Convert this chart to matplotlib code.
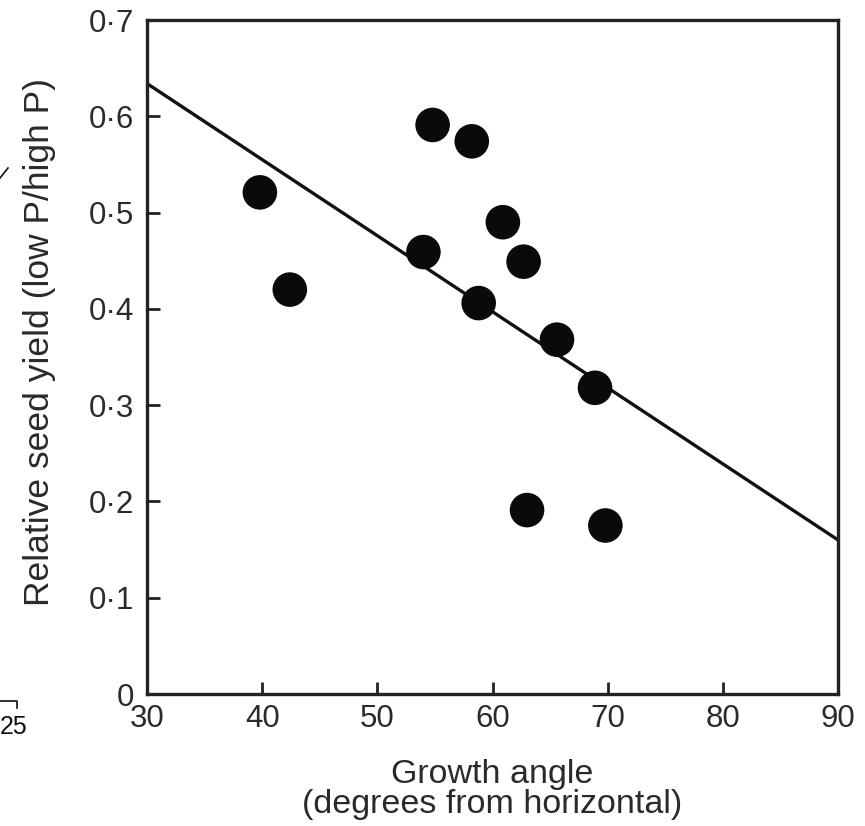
import matplotlib
matplotlib.use("Agg")
import matplotlib.pyplot as plt
from matplotlib.ticker import FuncFormatter
from matplotlib import font_manager

# Data
growth_angle = [39.8, 42.4, 54.8, 58.2, 54.0, 58.8, 60.9, 62.7, 65.6, 68.9, 63.0, 69.8]
relative_yield = [0.521, 0.420, 0.591, 0.574, 0.459, 0.406, 0.490, 0.449, 0.368, 0.318, 0.191, 0.175]
fit_x = [30, 90]
fit_y = [0.634, 0.160]
x_ticks = [30, 40, 50, 60, 70, 80, 90]
y_ticks = [0, 0.1, 0.2, 0.3, 0.4, 0.5, 0.6, 0.7]

names = {f.name for f in font_manager.fontManager.ttflist}
base = "Liberation Sans" if "Liberation Sans" in names else "DejaVu Sans"
narrow = "Liberation Sans Narrow" if "Liberation Sans Narrow" in names else base
plt.rcParams["font.family"] = [base, "DejaVu Sans"]

txt = "#2a2a2a"
fig = plt.figure(figsize=(8.65, 8.26), dpi=100)
ax = fig.add_axes([147/865, 1-694/826, (838-147)/865, (694-20)/826])

ax.plot(fit_x, fit_y, color="#111111", lw=2.4, solid_capstyle="butt", zorder=2)
ax.scatter(growth_angle, relative_yield, s=620, color="#0a0a0a", edgecolors="none", zorder=3)

ax.set_xlim(30, 90)
ax.set_ylim(0, 0.7)
ax.set_xticks(x_ticks)
ax.set_yticks(y_ticks)

def yfmt(v, pos):
    if abs(v) < 1e-9:
        return "0"
    return ("%.1f" % v).replace(".", "\u00b7")

ax.yaxis.set_major_formatter(FuncFormatter(yfmt))
ax.tick_params(direction="in", length=9, width=2, color="#222222",
               labelsize=22.5, labelcolor=txt, pad=9)
ax.tick_params(axis="x", pad=7)
for sp in ax.spines.values():
    sp.set_linewidth(2.4)
    sp.set_color("#222222")

ax.set_xlabel("Growth angle\n(degrees from horizontal)", fontsize=24.5, color=txt,
              labelpad=18, linespacing=0.95)
ax.set_ylabel("Relative seed yield (low P/high P)", fontsize=25.5, color=txt,
              family=[narrow, "DejaVu Sans"], labelpad=14)
ax.yaxis.set_label_coords(-0.132, 0.522)

# cropped fragments of the neighbouring figure at the left edge
fig.text(0.0, 1-739/826, "25", fontsize=18, color="#111111", ha="left", va="bottom")
fig.add_artist(plt.Line2D([0/865, 17/865, 17/865], [1-701/826, 1-701/826, 1-708/826],
                          transform=fig.transFigure, color="#111111", lw=1.2))
fig.add_artist(plt.Line2D([0/865, 8/865], [1-178/826, 1-168/826],
                          transform=fig.transFigure, color="#111111", lw=1.2))

fig.savefig("out.png", dpi=100, facecolor="white")
